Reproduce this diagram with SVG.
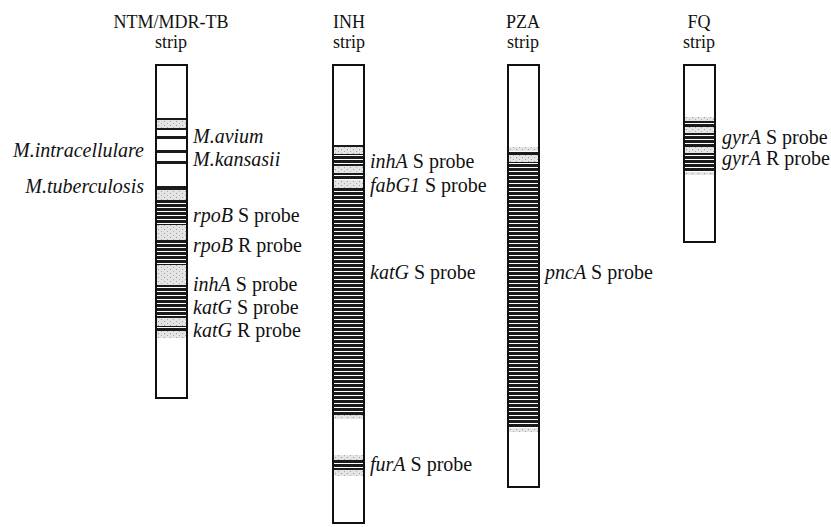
<svg xmlns="http://www.w3.org/2000/svg" width="831" height="527" viewBox="0 0 831 527">
<defs>
<pattern id="stripes" patternUnits="userSpaceOnUse" width="40" height="4"><rect width="40" height="4" fill="#fff"/><rect width="40" height="3" fill="#1a1a1a"/></pattern>
<pattern id="speckle" patternUnits="userSpaceOnUse" width="6" height="4"><rect width="6" height="4" fill="#e4e4e4"/><rect x="1" y="1" width="1" height="1" fill="#999"/><rect x="4" y="3" width="1" height="1" fill="#aaa"/></pattern>
</defs>
<style>
.t{font-family:"Liberation Serif","Times New Roman",serif;font-size:20px;fill:#111}
.h{font-size:18px}
.c{text-anchor:middle}
.e{text-anchor:end}
.i{font-style:italic}
.bg{fill:#fff}
.ol{fill:none;stroke:#111;stroke-width:2}
.st{fill:url(#stripes)}
.gr{fill:url(#speckle)}
.dk{fill:#1a1a1a}
</style>
<rect width="831" height="527" fill="#fff"/>

<g id="ntm-strip">
<text class="t h c" x="171" y="28">NTM/MDR-TB</text>
<text class="t h c" x="171" y="48">strip</text>
<rect class="bg" x="156" y="65" width="31" height="333"/>
<g transform="translate(157,0)">
<rect class="dk" y="118" width="29" height="2"/>
<rect class="gr" y="120" width="29" height="8"/>
<rect class="dk" y="128" width="29" height="2"/>
<rect class="dk" y="136" width="29" height="3"/>
<rect class="dk" y="150" width="29" height="3"/>
<rect class="dk" y="161" width="29" height="3"/>
<rect class="dk" y="186" width="29" height="4"/>
<rect class="gr" y="190" width="29" height="10"/>
<rect class="st" y="200" width="29" height="25"/>
<rect class="gr" y="225" width="29" height="15"/>
<rect class="st" y="240" width="29" height="25"/>
<rect class="gr" y="265" width="29" height="20"/>
<rect class="st" y="285" width="29" height="33"/>
<rect class="gr" y="318" width="29" height="8"/>
<rect class="st" y="326" width="29" height="5"/>
<rect class="gr" y="331" width="29" height="7"/>
</g>
<rect class="ol" x="156" y="65" width="31" height="333"/>
<text class="t i" x="193" y="143">M.avium</text>
<text class="t i e" x="144" y="157">M.intracellulare</text>
<text class="t i" x="193" y="166">M.kansasii</text>
<text class="t i e" x="144" y="193">M.tuberculosis</text>
<text class="t" x="193" y="222"><tspan class="i">rpoB</tspan> S probe</text>
<text class="t" x="193" y="252"><tspan class="i">rpoB</tspan> R probe</text>
<text class="t" x="193" y="291"><tspan class="i">inhA</tspan> S probe</text>
<text class="t" x="193" y="314"><tspan class="i">katG</tspan> S probe</text>
<text class="t" x="193" y="337"><tspan class="i">katG</tspan> R probe</text>
</g>

<g id="inh-strip">
<text class="t h c" x="349" y="28">INH</text>
<text class="t h c" x="349" y="48">strip</text>
<rect class="bg" x="333" y="65" width="31" height="458"/>
<g transform="translate(334,0)">
<rect class="dk" y="145" width="29" height="2"/>
<rect class="gr" y="147" width="29" height="7"/>
<rect class="st" y="154" width="29" height="12"/>
<rect class="gr" y="166" width="29" height="7"/>
<rect class="st" y="173" width="29" height="7"/>
<rect class="gr" y="180" width="29" height="8"/>
<rect class="st" y="188" width="29" height="227"/>
<rect class="gr" y="415" width="29" height="4"/>
<rect class="gr" y="455" width="29" height="5"/>
<rect class="st" y="460" width="29" height="10"/>
<rect class="gr" y="470" width="29" height="6"/>
</g>
<rect class="ol" x="333" y="65" width="31" height="458"/>
<text class="t" x="370" y="168"><tspan class="i">inhA</tspan> S probe</text>
<text class="t" x="370" y="192"><tspan class="i">fabG1</tspan> S probe</text>
<text class="t" x="370" y="279"><tspan class="i">katG</tspan> S probe</text>
<text class="t" x="370" y="471"><tspan class="i">furA</tspan> S probe</text>
</g>

<g id="pza-strip">
<text class="t h c" x="523" y="28">PZA</text>
<text class="t h c" x="523" y="48">strip</text>
<rect class="bg" x="508" y="65" width="31" height="422"/>
<g transform="translate(509,0)">
<rect class="gr" y="147" width="29" height="4"/>
<rect class="st" y="151" width="29" height="4"/>
<rect class="gr" y="155" width="29" height="7"/>
<rect class="st" y="162" width="29" height="266"/>
<rect class="gr" y="428" width="29" height="4"/>
</g>
<rect class="ol" x="508" y="65" width="31" height="422"/>
<text class="t" x="545" y="279"><tspan class="i">pncA</tspan> S probe</text>
</g>

<g id="fq-strip">
<text class="t h c" x="699" y="28">FQ</text>
<text class="t h c" x="699" y="48">strip</text>
<rect class="bg" x="684" y="65" width="31" height="177"/>
<g transform="translate(685,0)">
<rect class="gr" y="117" width="29" height="4"/>
<rect class="st" y="121" width="29" height="6"/>
<rect class="gr" y="127" width="29" height="6"/>
<rect class="st" y="133" width="29" height="14"/>
<rect class="gr" y="147" width="29" height="6"/>
<rect class="st" y="153" width="29" height="19"/>
<rect class="gr" y="172" width="29" height="3"/>
</g>
<rect class="ol" x="684" y="65" width="31" height="177"/>
<text class="t" x="722" y="144"><tspan class="i">gyrA</tspan> S probe</text>
<text class="t" x="722" y="165"><tspan class="i">gyrA</tspan> R probe</text>
</g>
</svg>
